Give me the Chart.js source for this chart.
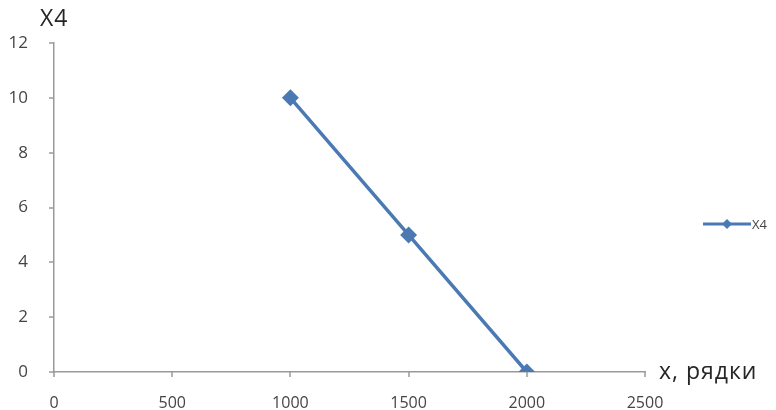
<!DOCTYPE html>
<html>
<head>
<meta charset="utf-8">
<script src="https://cdn.jsdelivr.net/npm/chart.js@4/dist/chart.umd.min.js"></script>
<style>
  html, body { margin: 0; padding: 0; background: #fff; }
  #wrap { width: 776px; height: 410px; position: relative; }
</style>
</head>
<body>
<div id="wrap"><canvas id="c" width="776" height="410"></canvas></div>
<script>
// Series: X4 against number of rows
const seriesName = 'X4';
const rowsX = [1000, 1500, 2000];
const x4Values = [10, 5, 0];
const xTickValues = [0, 500, 1000, 1500, 2000, 2500];
const yTickValues = [0, 2, 4, 6, 8, 10, 12];
const yTitle = 'X4';
const xTitle = 'x, рядки';

const lineColor = '#4a79b3';
const axisColor = '#9a9a9a';
const tickColor = '#454545';
const fontFamily = '"Open Sans", Lato, sans-serif';

const points = rowsX.map((x, i) => ({ x: x, y: x4Values[i] }));

// Axis titles, tick marks and a line-with-marker legend entry
const decorations = {
  id: 'decorations',
  afterDraw(chart) {
    const ctx = chart.ctx;
    const area = chart.chartArea;
    const xs = chart.scales.x, ys = chart.scales.y;
    ctx.save();

    // short tick marks outside the axes
    ctx.strokeStyle = axisColor;
    ctx.lineWidth = 1.5;
    ctx.beginPath();
    xTickValues.forEach(v => {
      const px = Math.round(xs.getPixelForValue(v));
      ctx.moveTo(px, area.bottom);
      ctx.lineTo(px, area.bottom + 5);
    });
    yTickValues.forEach(v => {
      const py = Math.round(ys.getPixelForValue(v));
      ctx.moveTo(area.left - 5, py);
      ctx.lineTo(area.left, py);
    });
    ctx.stroke();

    ctx.fillStyle = '#262626';
    ctx.font = '23px ' + fontFamily;
    ctx.textBaseline = 'middle';
    ctx.textAlign = 'left';
    ctx.letterSpacing = '1px';
    ctx.fillText(yTitle, area.left - 14, 19);
    ctx.fillText(xTitle, area.right + 14, area.bottom);
    ctx.letterSpacing = '0px';

    // legend
    const ly = 224;
    const lx0 = 703, lx1 = 751;
    ctx.strokeStyle = lineColor;
    ctx.lineWidth = 3;
    ctx.beginPath();
    ctx.moveTo(lx0, ly);
    ctx.lineTo(lx1, ly);
    ctx.stroke();
    const mx = (lx0 + lx1) / 2;
    ctx.fillStyle = lineColor;
    ctx.beginPath();
    ctx.moveTo(mx, ly - 5);
    ctx.lineTo(mx + 5, ly);
    ctx.lineTo(mx, ly + 5);
    ctx.lineTo(mx - 5, ly);
    ctx.closePath();
    ctx.fill();
    ctx.fillStyle = tickColor;
    ctx.font = '13px ' + fontFamily;
    ctx.fillText(seriesName, lx1 + 1, ly + 1);
    ctx.restore();
  }
};

new Chart(document.getElementById('c'), {
  type: 'scatter',
  data: {
    datasets: [{
      label: seriesName,
      data: points,
      showLine: true,
      borderColor: lineColor,
      backgroundColor: lineColor,
      borderWidth: 3.5,
      pointStyle: 'rectRot',
      pointRadius: 6,
      pointHoverRadius: 6,
      tension: 0
    }]
  },
  options: {
    responsive: false,
    animation: false,
    events: [],
    layout: { padding: { left: 0, right: 131, top: 43, bottom: 0 } },
    plugins: {
      legend: { display: false },
      tooltip: { enabled: false }
    },
    scales: {
      x: {
        type: 'linear',
        min: 0,
        max: 2500,
        afterBuildTicks(scale) { scale.ticks = xTickValues.map(v => ({ value: v })); },
        afterFit(scale) { scale.height = 38; },
        border: { display: true, color: axisColor, width: 1.5 },
        grid: { display: false },
        ticks: {
          color: tickColor,
          font: { family: fontFamily, size: 16 },
          padding: 14,
          maxRotation: 0,
          callback: v => String(v)
        }
      },
      y: {
        type: 'linear',
        min: 0,
        max: 12,
        afterBuildTicks(scale) { scale.ticks = yTickValues.map(v => ({ value: v })); },
        afterFit(scale) { scale.width = 54; },
        border: { display: true, color: axisColor, width: 1.5 },
        grid: { display: false },
        ticks: {
          color: tickColor,
          font: { family: fontFamily, size: 17 },
          padding: 18,
          callback: v => String(v)
        }
      }
    }
  },
  plugins: [decorations]
});
</script>
</body>
</html>
